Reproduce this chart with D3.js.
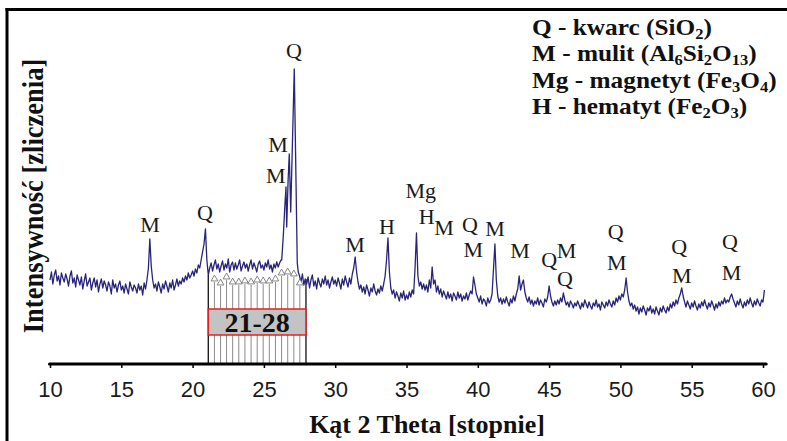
<!DOCTYPE html>
<html>
<head>
<meta charset="utf-8">
<script src="https://cdn.jsdelivr.net/npm/d3@7"></script>
<style>
  body { margin: 0; background: #fff; }
  svg { display: block; }
</style>
</head>
<body>
<div id="chart"></div>
<script>
// XRD pattern, counts (step 0.1 deg from 10.0)
const startAngle = 10.0, angleStep = 0.1;
const counts = [
  84, 92, 80, 89, 94, 83, 88, 79, 91, 86,
  82, 90, 85, 78, 88, 93, 81, 86, 77, 89,
  84, 79, 87, 75, 83, 90, 78, 82, 86, 74,
  81, 86, 77, 84, 72, 80, 85, 76, 83, 79,
  73, 82, 78, 70, 84, 76, 80, 72, 79, 83,
  74, 78, 71, 80, 75, 70, 82, 77, 73, 79,
  76, 71, 80, 74, 78, 69, 81, 75, 84, 96,
  125, 98, 84, 76, 80, 73, 82, 77, 71, 80,
  75, 83, 78, 72, 81, 76, 84, 74, 79, 85,
  78, 83, 80, 86, 82, 88, 84, 91, 86, 89,
  93, 88, 95, 91, 99, 96, 104, 112, 120, 135,
  104, 89, 96, 101, 93, 99, 104, 95, 100, 92,
  98, 103, 94, 100, 96, 105, 92, 99, 102, 94,
  101, 95, 99, 104, 93, 98, 102, 96, 100, 93,
  99, 104, 95, 101, 97, 92, 100, 103, 96, 99,
  94, 101, 97, 104, 95, 99, 92, 100, 96, 102,
  97, 101, 104, 0, 0, 0, 0, 0, 0, 0,
  0, 0, 0, 0, 0, 88, 82, 90, 79, 85,
  80, 87, 76, 84, 89, 78, 83, 75, 86, 81,
  77, 85, 80, 88, 79, 84, 76, 82, 87, 80,
  84, 78, 86, 81, 75, 85, 79, 88, 82, 77,
  86, 80, 90, 96, 107, 92, 82, 75, 79, 72,
  77, 70, 79, 74, 68, 76, 72, 80, 73, 69,
  75, 71, 78, 73, 80, 88, 104, 126, 92, 76,
  70, 74, 66, 72, 68, 63, 71, 66, 73, 64,
  69, 65, 72, 67, 74, 70, 96, 131, 88, 78,
  82, 75, 80, 74, 79, 72, 84, 76, 97, 80,
  84, 72, 78, 70, 75, 67, 73, 69, 65, 72,
  66, 70, 63, 71, 68, 64, 72, 66, 70, 63,
  68, 65, 71, 64, 69, 73, 70, 87, 79, 70,
  66, 62, 68, 60, 65, 63, 58, 66, 61, 64,
  70, 95, 120, 84, 68, 62, 66, 60, 65, 61,
  67, 62, 58, 65, 61, 68, 63, 70, 75, 88,
  74, 80, 84, 72, 66, 62, 67, 60, 64, 58,
  63, 60, 66, 59, 64, 61, 57, 65, 62, 67,
  78, 68, 62, 58, 63, 59, 64, 60, 66, 62,
  71, 64, 59, 62, 57, 63, 60, 56, 61, 58,
  63, 59, 55, 61, 57, 64, 60, 56, 62, 58,
  55, 61, 58, 64, 57, 60, 54, 62, 59, 56,
  62, 58, 64, 60, 57, 63, 59, 66, 62, 68,
  64, 70, 67, 74, 86, 72, 63, 58, 61, 55,
  59, 53, 57, 50, 56, 52, 58, 54, 49, 56,
  53, 58, 51, 55, 50, 57, 53, 49, 56, 52,
  58, 54, 51, 57, 53, 60, 56, 62, 58, 64,
  60, 66, 70, 76, 68, 62, 57, 63, 59, 55,
  61, 57, 63, 58, 54, 60, 56, 62, 58, 64,
  59, 55, 61, 57, 63, 59, 54, 60, 56, 62,
  58, 63, 60, 66, 61, 64, 62, 67, 70, 65,
  61, 57, 63, 59, 65, 60, 56, 62, 58, 64,
  60, 66, 61, 57, 63, 59, 65, 61, 58, 64,
  62, 74
];
// the quartz / mullite triplet near 26-27.4 deg, finer points
const tripletWindow = [26.22, 27.45];
const triplet = [
  [26.25, 104], [26.36, 128], [26.48, 161], [26.55, 177], [26.60, 137],
  [26.70, 185], [26.78, 210], [26.88, 152], [27.13, 295], [27.34, 101],
  [27.41, 92]
];

// marked region 21-28 with drop lines
const regionLabel = "21-28";
const regionRange = [21.1, 27.95];
const dropAngles = [21.53, 21.96, 22.38, 22.81, 23.24, 23.67, 24.10, 24.53,
  24.95, 25.38, 25.81, 26.24, 26.67, 27.10, 27.52];
const dropCounts = [85, 81, 87, 82, 82, 83, 82, 84, 83, 83, 85, 91, 92, 90, 81];

// phase labels: text, 2theta, level (counts)
const peakText = ["M", "Q", "Q", "M", "M", "M", "H", "Mg", "H", "M", "Q", "M",
  "M", "M", "Q", "M", "Q", "Q", "M", "Q", "M", "Q", "M"];
const peakAngle = [17.01, 20.87, 27.11, 25.99, 25.83, 31.39, 33.63, 36.0, 36.42,
  37.63, 39.45, 39.68, 41.21, 42.96, 45.01, 46.23, 46.11, 49.67, 49.74, 54.13,
  54.3, 57.69, 57.8];
const peakLevel = [132, 144, 306, 212, 181, 112, 130, 166, 140, 129, 132, 107,
  128, 106, 97, 106, 78, 125, 94, 110, 81, 115, 84];

const legendLines = [
  "Q - kwarc (SiO_2)",
  "M - mulit (Al_6Si_2O_13)",
  "Mg - magnetyt (Fe_3O_4)",
  "H - hematyt (Fe_2O_3)"
];
const xTicks = [10, 15, 20, 25, 30, 35, 40, 45, 50, 55, 60];
const xTitle = "Kąt 2 Theta [stopnie]";
const yTitle = "Intensywność [zliczenia]";

const W = 787, H = 441;
const serif = "Liberation Serif, Times New Roman, serif";
const svg = d3.select("#chart").append("svg").attr("width", W).attr("height", H);

const x = d3.scaleLinear().domain([10, 60]).range([50, 763]);
const y = d3.scaleLinear().domain([0, 300]).range([364, 64]);

// build pattern points
let pattern = counts.map((c, i) => [+(startAngle + i * angleStep).toFixed(2), c])
  .filter(p => p[0] < tripletWindow[0] || p[0] > tripletWindow[1]);
pattern = pattern.concat(triplet).sort((a, b) => a[0] - b[0]);
const valueAt = a => d3.least(pattern, p => Math.abs(p[0] - a))[1];

// frame (left and top only)
svg.append("line").attr("x1", 7).attr("x2", 7).attr("y1", 8).attr("y2", H)
  .attr("stroke", "#000").attr("stroke-width", 3);
svg.append("line").attr("x1", 5.5).attr("x2", W).attr("y1", 9.5).attr("y2", 9.5)
  .attr("stroke", "#000").attr("stroke-width", 3);

// drop lines in the region
const g = svg.append("g");
g.selectAll("line.drop").data(dropAngles).join("line")
  .attr("class", "drop")
  .attr("x1", d => x(d)).attr("x2", d => x(d))
  .attr("y1", y(0)).attr("y2", (d, i) => y(dropCounts[i]) + 3)
  .attr("stroke", "#8a8a8a").attr("stroke-width", 1);
g.selectAll("line.edge").data(regionRange).join("line")
  .attr("class", "edge")
  .attr("x1", d => x(d)).attr("x2", d => x(d))
  .attr("y1", y(0)).attr("y2", d => y(valueAt(d)))
  .attr("stroke", "#111").attr("stroke-width", 1.3);

// trace
const line = d3.line().x(d => x(d[0])).y(d => y(d[1]));
svg.append("path").datum(pattern)
  .attr("d", line)
  .attr("fill", "none")
  .attr("stroke", "#27247a")
  .attr("stroke-width", 1.3)
  .attr("stroke-linejoin", "round");

// triangle markers
svg.selectAll("path.tri").data(dropAngles).join("path")
  .attr("class", "tri")
  .attr("d", d3.symbol(d3.symbolTriangle, 20))
  .attr("transform", (d, i) => `translate(${x(d)},${y(dropCounts[i])})`)
  .attr("fill", "#fff").attr("stroke", "#777").attr("stroke-width", 0.9);

// region label box
svg.append("rect")
  .attr("x", x(regionRange[0])).attr("width", x(regionRange[1]) - x(regionRange[0]))
  .attr("y", y(55)).attr("height", y(29) - y(55))
  .attr("fill", "#c3c3c3").attr("stroke", "#e3221f").attr("stroke-width", 1.5);
svg.append("text")
  .attr("x", (x(regionRange[0]) + x(regionRange[1])) / 2).attr("y", y(32.5))
  .attr("text-anchor", "middle")
  .attr("font-family", serif)
  .attr("font-weight", "bold").attr("font-size", 28)
  .attr("fill", "#111")
  .text(regionLabel);

// x axis
const axis = svg.append("g").attr("transform", `translate(0,${y(0)})`)
  .call(d3.axisBottom(x).tickValues(xTicks).tickSize(4).tickFormat(d3.format("d")));
axis.select(".domain").remove();
axis.selectAll(".tick line").attr("stroke", "#000").attr("stroke-width", 1.5);
axis.selectAll(".tick text")
  .attr("y", 33).attr("dy", null)
  .attr("font-family", "Liberation Sans, Arial, sans-serif")
  .attr("font-size", 22).attr("fill", "#1a1a1a");
svg.append("line")
  .attr("x1", x(9.97)).attr("x2", x(60.22)).attr("y1", y(0)).attr("y2", y(0))
  .attr("stroke", "#000").attr("stroke-width", 3.2).attr("stroke-linecap", "round");

// axis titles
svg.append("text")
  .attr("x", 427).attr("y", 433)
  .attr("text-anchor", "middle")
  .attr("font-family", serif)
  .attr("font-weight", "bold").attr("font-size", 26).attr("fill", "#111")
  .text(xTitle);
svg.append("text")
  .attr("transform", "translate(43,196) rotate(-90) scale(1,1.15)")
  .attr("text-anchor", "middle")
  .attr("font-family", serif)
  .attr("font-weight", "bold").attr("font-size", 26.5).attr("fill", "#111")
  .text(yTitle);

// peak labels
svg.selectAll("text.peak").data(peakText).join("text")
  .attr("class", "peak")
  .attr("x", (d, i) => x(peakAngle[i]))
  .attr("y", (d, i) => y(peakLevel[i]))
  .attr("text-anchor", "middle")
  .attr("font-family", serif)
  .attr("font-size", 22).attr("fill", "#1a1a1a")
  .text(d => d);

// legend with subscripts
const legend = svg.append("g")
  .attr("font-family", serif)
  .attr("font-weight", "bold").attr("fill", "#111");
legendLines.forEach((str, i) => {
  const t = legend.append("text")
    .attr("transform", `translate(532,${35 + i * 26.4}) scale(1.1,1)`)
    .attr("font-size", 23);
  const parts = str.split(/_(\d+)/);
  let shifted = false;
  parts.forEach((p, j) => {
    if (!p) return;
    if (j % 2 === 1) {
      t.append("tspan").attr("font-size", 15).attr("dy", shifted ? 0 : 4).text(p);
      shifted = true;
    } else {
      const s = t.append("tspan").text(p);
      if (shifted) { s.attr("dy", -4); shifted = false; }
    }
  });
});
</script>
</body>
</html>
